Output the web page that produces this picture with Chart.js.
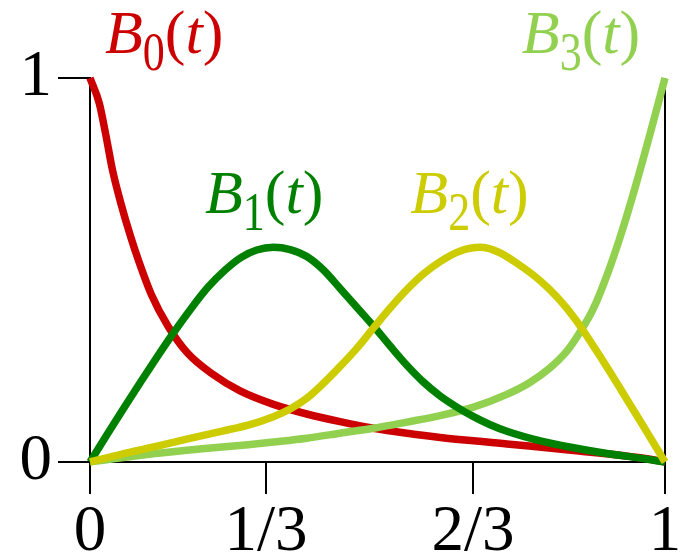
<!DOCTYPE html>
<html>
<head>
<meta charset="utf-8">
<script src="https://cdn.jsdelivr.net/npm/chart.js@4.4.1/dist/chart.umd.min.js"></script>
<style>
    body { margin: 0; background: #fff; }
    #wrap { width: 685px; height: 554px; }
</style>
</head>
<body>
<div id="wrap"><canvas id="basisChart" width="685" height="554"></canvas></div>
<script>
// values
const xTicks = [0, 0.306, 0.666, 1];
const xTickLabels = ['0', '1/3', '2/3', '1'];
const yTicks = [0, 1];
const yTickLabels = ['0', '1'];

const b0X = [0, 0.016, 0.028, 0.039, 0.054, 0.070, 0.085, 0.107, 0.136, 0.170, 0.211, 0.261, 0.319, 0.377, 0.435, 0.493, 0.551, 0.609, 0.725, 0.841, 0.957, 1];
const b0Y = [1, 0.935, 0.848, 0.761, 0.672, 0.590, 0.522, 0.435, 0.353, 0.283, 0.231, 0.185, 0.150, 0.125, 0.105, 0.088, 0.075, 0.064, 0.047, 0.030, 0.011, 0];

const b1X = [0, 0.03, 0.06, 0.09, 0.12, 0.145, 0.175, 0.205, 0.235, 0.263, 0.29, 0.319, 0.348, 0.377, 0.406, 0.435, 0.464, 0.493, 0.522, 0.551, 0.58, 0.609, 0.638, 0.667, 0.696, 0.725, 0.783, 0.841, 0.899, 0.957, 1];
const b1Y = [0, 0.072, 0.143, 0.213, 0.281, 0.336, 0.398, 0.455, 0.500, 0.533, 0.552, 0.559, 0.553, 0.535, 0.500, 0.452, 0.403, 0.354, 0.302, 0.252, 0.208, 0.172, 0.143, 0.118, 0.097, 0.080, 0.055, 0.037, 0.022, 0.010, 0];

const b2X = [0, 0.054, 0.113, 0.170, 0.228, 0.275, 0.319, 0.348, 0.377, 0.406, 0.435, 0.464, 0.493, 0.522, 0.551, 0.580, 0.609, 0.643, 0.678, 0.710, 0.745, 0.783, 0.815, 0.845, 0.872, 0.900, 0.930, 0.960, 1];
const b2Y = [0, 0.020, 0.040, 0.060, 0.080, 0.096, 0.118, 0.138, 0.166, 0.205, 0.249, 0.296, 0.349, 0.401, 0.449, 0.490, 0.522, 0.549, 0.559, 0.547, 0.515, 0.472, 0.425, 0.370, 0.310, 0.245, 0.172, 0.099, 0];

const b3X = [0, 0.113, 0.2, 0.275, 0.319, 0.377, 0.435, 0.493, 0.551, 0.609, 0.667, 0.725, 0.765, 0.800, 0.830, 0.852, 0.875, 0.900, 0.925, 0.950, 0.975, 1];
const b3Y = [0, 0.022, 0.035, 0.045, 0.052, 0.062, 0.075, 0.088, 0.104, 0.121, 0.143, 0.176, 0.207, 0.245, 0.290, 0.338, 0.398, 0.490, 0.600, 0.725, 0.860, 1];

const seriesNames = ['0', '1', '2', '3'];
const colors = ['#cc0000', '#008000', '#cccc00', '#92d050'];
const serif = '"Liberation Serif", "Times New Roman", serif';

function toPoints(xs, ys) {
    return xs.map((x, i) => ({ x, y: ys[i] }));
}

// B_n(t) labels, anchored in data units (left edge, baseline)
const labelSpots = [
    { x: 0.026, y: 1.066 },
    { x: 0.200, y: 0.649 },
    { x: 0.557, y: 0.649 },
    { x: 0.751, y: 1.066 }
];

const basisLabels = {
    id: 'basisLabels',
    afterDatasetsDraw(chart) {
        const { ctx, scales } = chart;
        const big = 62, small = 44;
        ctx.save();
        ctx.textBaseline = 'alphabetic';
        ctx.textAlign = 'left';
        labelSpots.forEach((spot, i) => {
            let px = scales.x.getPixelForValue(spot.x);
            const py = scales.y.getPixelForValue(spot.y);
            ctx.fillStyle = colors[i];
            const parts = [
                { t: 'B', f: `italic ${big}px ${serif}`, dy: 0, sy: 1 },
                { t: seriesNames[i], f: `${small}px ${serif}`, dy: 17, sy: 1.25 },
                { t: '(', f: `${big}px ${serif}`, dy: 0, sy: 1 },
                { t: 't', f: `italic ${big}px ${serif}`, dy: 0, sy: 1 },
                { t: ')', f: `${big}px ${serif}`, dy: 0, sy: 1 }
            ];
            parts.forEach(p => {
                ctx.font = p.f;
                ctx.save();
                ctx.translate(px, py + p.dy);
                ctx.scale(1, p.sy);
                ctx.fillText(p.t, 0, 0);
                ctx.restore();
                px += ctx.measureText(p.t).width;
            });
        });
        ctx.restore();
    }
};

const tickFont = { family: serif, size: 65 };

new Chart(document.getElementById('basisChart'), {
    type: 'line',
    data: {
        datasets: [
            { data: toPoints(b0X, b0Y), borderColor: colors[0], order: 3 },
            { data: toPoints(b1X, b1Y), borderColor: colors[1], order: 1 },
            { data: toPoints(b2X, b2Y), borderColor: colors[2], order: 0 },
            { data: toPoints(b3X, b3Y), borderColor: colors[3], order: 2 }
        ]
    },
    options: {
        responsive: false,
        devicePixelRatio: 1,
        animation: false,
        layout: { padding: { top: 78, right: 20, left: 0, bottom: 0 } },
        datasets: {
            line: {
                borderWidth: 7.5,
                pointRadius: 0,
                fill: false,
                cubicInterpolationMode: 'monotone',
                clip: false
            }
        },
        plugins: { legend: { display: false }, tooltip: { enabled: false } },
        scales: {
            x: {
                type: 'linear',
                min: 0,
                max: 1,
                afterBuildTicks: s => { s.ticks = xTicks.map(v => ({ value: v })); },
                afterFit: s => { s.height = 92; },
                ticks: {
                    autoSkip: false,
                    maxRotation: 0,
                    padding: 0,
                    color: '#000',
                    font: tickFont,
                    callback: (v, i) => xTickLabels[i]
                },
                grid: {
                    color: c => (c.tick && c.tick.value === 1 ? '#000' : 'rgba(0,0,0,0)'),
                    lineWidth: 2,
                    tickColor: '#000',
                    tickLength: 32,
                    tickWidth: 2
                },
                border: { display: true, color: '#000', width: 2 }
            },
            y: {
                type: 'linear',
                min: 0,
                max: 1,
                afterBuildTicks: s => { s.ticks = yTicks.map(v => ({ value: v })); },
                afterFit: s => { s.width = 90; },
                ticks: {
                    padding: 6,
                    color: '#000',
                    font: tickFont,
                    callback: (v, i) => yTickLabels[i]
                },
                grid: {
                    drawOnChartArea: false,
                    lineWidth: 2,
                    tickColor: '#000',
                    tickLength: 32,
                    tickWidth: 2
                },
                border: { display: true, color: '#000', width: 2 }
            }
        }
    },
    plugins: [basisLabels]
});
</script>
</body>
</html>
